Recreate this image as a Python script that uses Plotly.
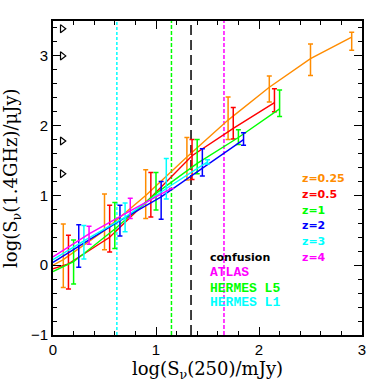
import plotly.graph_objects as go

# ---- data ----
# z = 0.25 (orange)
X_Z025 = [0.1, 0.5, 0.9, 1.3, 1.7, 2.1, 2.5, 2.9]
Y_Z025 = [0.08, 0.50, 1.00, 1.55, 2.08, 2.55, 2.96, 3.27]
HI_Z025 = [0.59, 1.02, 1.37, 1.83, 2.41, 2.71, 3.17, 3.34]
LO_Z025 = [-0.32, 0.22, 0.67, 1.22, 1.80, 2.34, 2.72, 3.08]
Y0_Z025 = 0.0
# z = 0.5 (red)
X_Z05 = [0.15, 0.55, 0.95, 1.35, 1.75, 2.15]
Y_Z05 = [0.02, 0.40, 0.97, 1.57, 1.96, 2.33]
HI_Z05 = [0.43, 0.86, 1.33, 1.80, 2.26, 2.53]
LO_Z05 = [-0.34, 0.19, 0.69, 1.23, 1.81, 2.20]
Y0_Z05 = -0.05
# z = 1 (green)
X_Z1 = [0.2, 0.6, 1.0, 1.4, 1.8, 2.2]
Y_Z1 = [0.05, 0.52, 1.03, 1.46, 1.83, 2.24]
HI_Z1 = [0.36, 0.90, 1.33, 1.80, 1.94, 2.51]
LO_Z1 = [-0.27, 0.24, 0.79, 1.31, 1.73, 2.13]
Y0_Z1 = -0.09
# z = 2 (blue)
X_Z2 = [0.25, 0.65, 1.05, 1.45, 1.85]
Y_Z2 = [0.27, 0.64, 0.98, 1.39, 1.80]
HI_Z2 = [0.58, 0.86, 1.20, 1.67, 1.90]
LO_Z2 = [-0.03, 0.42, 0.66, 1.28, 1.72]
Y0_Z2 = 0.04
# z = 3 (cyan)
X_Z3 = [0.3, 0.7, 1.1, 1.5]
Y_Z3 = [0.35, 0.69, 1.10, 1.48]
HI_Z3 = [0.57, 0.89, 1.53, 1.51]
LO_Z3 = [0.09, 0.48, 0.95, 1.45]
Y0_Z3 = 0.08
# z = 4 (magenta)
X_Z4 = [0.35, 0.75, 1.15]
Y_Z4 = [0.45, 0.78, 1.10]
HI_Z4 = [0.56, 0.96, None]
LO_Z4 = [0.30, 0.67, None]
Y0_Z4 = 0.12

# vertical flux limits
VLINE_X = [0.62, 1.15, 1.34, 1.66]
VLINE_COLORS = ["#00FFFF", "#00FF00", "#000000", "#FF00FF"]
VLINE_DASH = ["3px,2px", "4px,2px", "10px,5px", "4px,2px"]

# arrows on left edge
ARROW_X = [0.09, 0.09, 0.09, 0.09]
ARROW_Y = [3.39, 3.0, 1.78, 1.31]

Z_LABELS = ["z=0.25", "z=0.5", "z=1", "z=2", "z=3", "z=4"]
Z_COLORS = ["#FF8C00", "#FF0000", "#00FF00", "#0000FF", "#00FFFF", "#FF00FF"]
Z_LABEL_Y = [1.25, 1.02, 0.79, 0.566, 0.337, 0.117]

LIM_LABELS = ["confusion", "ATLAS", "HERMES L5", "HERMES L1"]
LIM_COLORS = ["#000000", "#FF00FF", "#00FF00", "#00FFFF"]
LIM_LABEL_Y = [0.113, -0.107, -0.33, -0.537]

X_TICKS = [0, 1, 2, 3]
Y_TICKS = [-1, 0, 1, 2, 3]

series = [
    (X_Z025, Y_Z025, HI_Z025, LO_Z025, Y0_Z025),
    (X_Z05, Y_Z05, HI_Z05, LO_Z05, Y0_Z05),
    (X_Z1, Y_Z1, HI_Z1, LO_Z1, Y0_Z1),
    (X_Z2, Y_Z2, HI_Z2, LO_Z2, Y0_Z2),
    (X_Z3, Y_Z3, HI_Z3, LO_Z3, Y0_Z3),
    (X_Z4, Y_Z4, HI_Z4, LO_Z4, Y0_Z4),
]

fig = go.Figure()

for xv, col, dash in zip(VLINE_X, VLINE_COLORS, VLINE_DASH):
    fig.add_trace(go.Scatter(x=[xv, xv], y=[-1, 3.5], mode="lines",
                             line=dict(color=col, width=1.5, dash=dash),
                             showlegend=False, hoverinfo="skip"))

for (xs, ys, hi, lo, y0), col in zip(series, Z_COLORS):
    fig.add_trace(go.Scatter(x=[0] + xs, y=[y0] + ys, mode="lines",
                             line=dict(color=col, width=1.4),
                             showlegend=False))
    plus = [(h - y) if h is not None else None for h, y in zip(hi, ys)]
    minus = [(y - l) if l is not None else None for l, y in zip(lo, ys)]
    fig.add_trace(go.Scatter(x=xs, y=ys, mode="markers",
                             marker=dict(size=1, color=col, opacity=0),
                             error_y=dict(type="data", array=plus, arrayminus=minus,
                                          color=col, thickness=1.5, width=2.5,
                                          symmetric=False),
                             showlegend=False))

fig.add_trace(go.Scatter(x=ARROW_X, y=ARROW_Y, mode="markers",
                         marker=dict(symbol="triangle-right-open", size=7,
                                     color="black", line=dict(width=1.2, color="black")),
                         showlegend=False))

for txt, col, yv in zip(Z_LABELS, Z_COLORS, Z_LABEL_Y):
    fig.add_annotation(x=2.40, y=yv, text="<b>" + txt + "</b>", showarrow=False,
                       xanchor="left", yanchor="middle",
                       font=dict(family="DejaVu Sans", size=11, color=col))

for i, (txt, col, yv) in enumerate(zip(LIM_LABELS, LIM_COLORS, LIM_LABEL_Y)):
    if i == 0:
        font = dict(family="DejaVu Sans", size=11, color=col)
    else:
        font = dict(family="Liberation Mono", size=13, color=col)
    fig.add_annotation(x=1.508, y=yv, text="<b>" + txt + "</b>", showarrow=False,
                       xanchor="left", yanchor="middle", font=font)

fig.add_annotation(xref="paper", yref="paper", x=0.5, y=-0.111,
                   text="log(S<sub>ν</sub>(250)/mJy)", showarrow=False,
                   xanchor="center", yanchor="middle",
                   font=dict(family="DejaVu Serif", size=18, color="black"))
fig.add_annotation(xref="paper", yref="paper", x=-0.133, y=0.5,
                   text="log(S<sub>ν</sub>(1.4GHz)/μJy)", showarrow=False,
                   textangle=-90, xanchor="center", yanchor="middle",
                   font=dict(family="DejaVu Serif", size=18, color="black"))

axis_common = dict(showgrid=False, zeroline=False, showline=True, linecolor="black",
                   linewidth=2, mirror="allticks", ticks="inside", ticklen=8,
                   tickwidth=1.3, tickcolor="black",
                   tickfont=dict(family="Liberation Sans", size=15, color="black"),
                   minor=dict(ticks="inside", ticklen=4, dtick=0.2, tickwidth=1.1,
                              tickcolor="black", showgrid=False))

fig.update_xaxes(range=[0, 3], tickvals=X_TICKS, **axis_common)
fig.update_yaxes(range=[-1, 3.5], tickvals=Y_TICKS, **axis_common)

fig.update_layout(width=382, height=382, margin=dict(l=53, r=20, t=21, b=47),
                  paper_bgcolor="white", plot_bgcolor="white", showlegend=False)

fig.write_html("out.html", config={"displayModeBar": False},
               post_script="document.body.style.margin='0px';document.body.style.overflow='hidden';")
